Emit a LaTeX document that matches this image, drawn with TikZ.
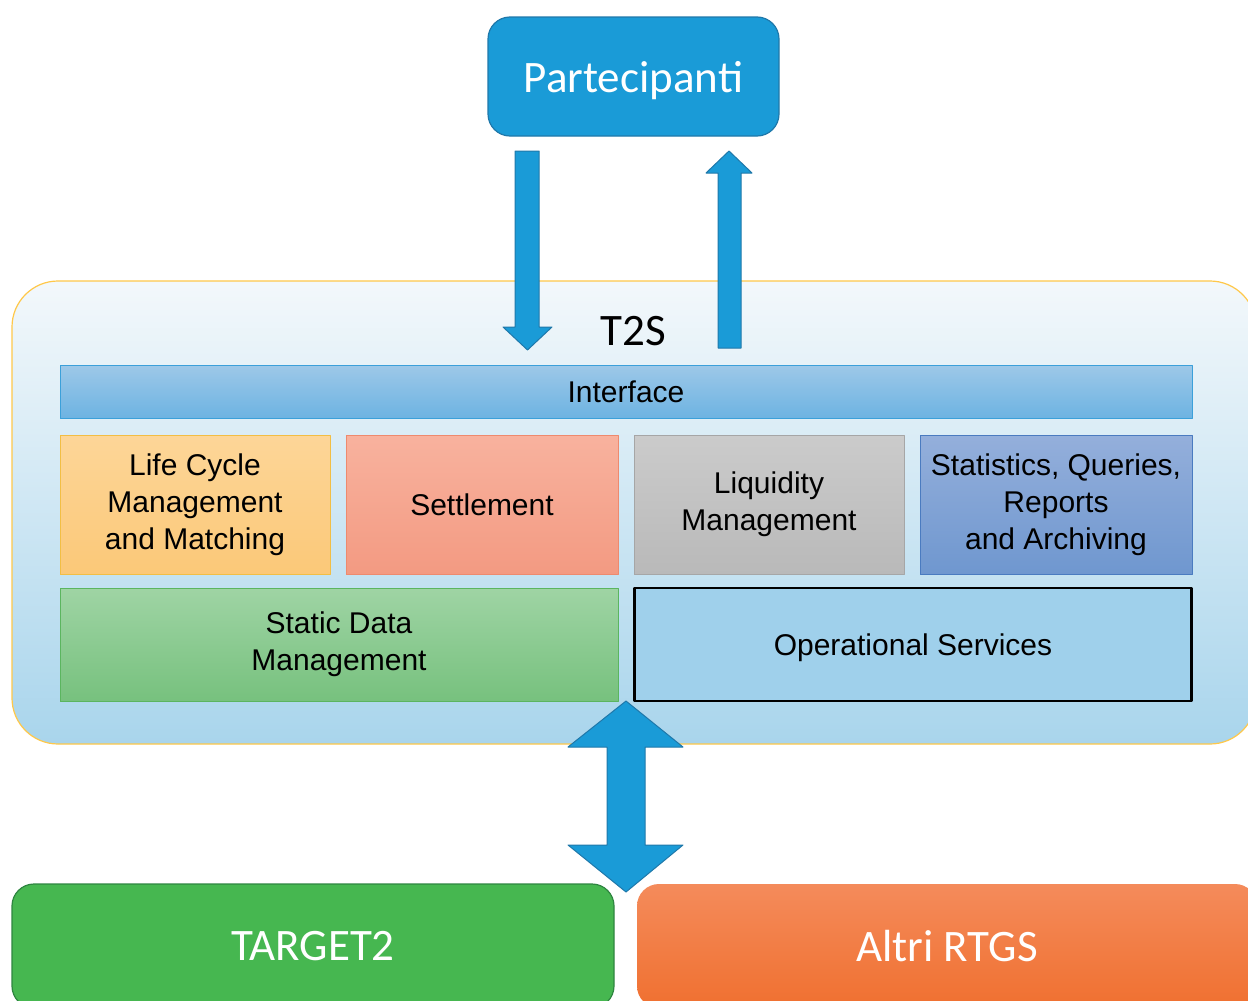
\documentclass[tikz,border=0pt]{standalone}
\usepackage{fontspec}
\setmainfont{Liberation Sans}
\newfontfamily\calfont{Carlito}
\newcommand\lnstrut{\rule[-6.5pt]{0pt}{34pt}}
\definecolor{partblue}{HTML}{1A9BD7}
\definecolor{partedge}{HTML}{1F78AA}
\definecolor{contTop}{HTML}{F3F8FB}
\definecolor{contBot}{HTML}{A9D5EC}
\definecolor{contEdge}{HTML}{FFC84A}
\definecolor{ifTop}{HTML}{9DC8E8}
\definecolor{ifBot}{HTML}{6DB3E2}
\definecolor{ifEdge}{HTML}{3BA0DA}
\definecolor{lcTop}{HTML}{FDD698}
\definecolor{lcBot}{HTML}{FBC878}
\definecolor{lcEdge}{HTML}{F2BE44}
\definecolor{stTop}{HTML}{F8B29E}
\definecolor{stBot}{HTML}{F39A82}
\definecolor{stEdge}{HTML}{EE8A6E}
\definecolor{lqTop}{HTML}{CBCBCB}
\definecolor{lqBot}{HTML}{B9B9B9}
\definecolor{lqEdge}{HTML}{A6A6A6}
\definecolor{sqTop}{HTML}{94AFDB}
\definecolor{sqBot}{HTML}{6F97CF}
\definecolor{sqEdge}{HTML}{4A7BC0}
\definecolor{sdTop}{HTML}{9FD4A4}
\definecolor{sdBot}{HTML}{77C17E}
\definecolor{sdEdge}{HTML}{5BB55F}
\definecolor{opFill}{HTML}{9FD0EB}
\definecolor{tgFill}{HTML}{46B750}
\definecolor{tgEdge}{HTML}{2E8540}
\definecolor{arTop}{HTML}{F48B5B}
\definecolor{arBot}{HTML}{F07030}
\begin{document}
\begin{tikzpicture}[x=1pt,y=-1pt,line join=round,
  blk/.style={rectangle,inner sep=0pt,align=center,font=\fontsize{30}{37}\selectfont,text=black,
    execute at begin node={\lnstrut},execute at end node={\lnstrut}},
  bigtxt/.style={font=\calfont\fontsize{45}{50}\selectfont},
  blockarrow/.style={fill=partblue,draw=partedge,line width=1pt}]
\useasboundingbox (0,0) rectangle (1248,1001);
\clip (0,0) rectangle (1248,1001);
% container
\node[rectangle,rounded corners=46pt,draw=contEdge,line width=1.2pt,top color=contTop,bottom color=contBot,
  minimum width=1244pt,minimum height=463pt] (t2s) at (634,512.5) {};
\node[bigtxt,text=black] (t2slabel) at (633,331) {T2S};
% top box
\node[rectangle,inner sep=0pt,bigtxt,rounded corners=22pt,fill=partblue,draw=partedge,line width=1.2pt,text=white,
  text height=36pt,text depth=5pt,
  minimum width=291pt,minimum height=119pt] (part) at (633.5,76.5) {Partecipanti};
% interface
\node[blk,draw=ifEdge,line width=1pt,top color=ifTop,bottom color=ifBot,
  minimum width=1132pt,minimum height=53pt] (iface) at (626,391.5) {Interface};
% row 1
\node[blk,draw=lcEdge,line width=1pt,top color=lcTop,bottom color=lcBot,
  minimum width=270pt,minimum height=139pt] (lcm) at (195,504.5) {Life Cycle\\Management\\and Matching};
\node[blk,draw=stEdge,line width=1pt,top color=stTop,bottom color=stBot,
  minimum width=272pt,minimum height=139pt] (sett) at (482,504.5) {Settlement};
\node[blk,draw=lqEdge,line width=1pt,top color=lqTop,bottom color=lqBot,
  minimum width=270pt,minimum height=139pt] (liq) at (769,504.5) {Liquidity\\Management};
\node[blk,draw=sqEdge,line width=1pt,top color=sqTop,bottom color=sqBot,
  minimum width=272pt,minimum height=139pt] (stat) at (1056,504.5) {Statistics, Queries,\\Reports\\and Archiving};
% row 2
\node[blk,draw=sdEdge,line width=1pt,top color=sdTop,bottom color=sdBot,
  minimum width=558pt,minimum height=113pt] (sdm) at (339,644.5) {Static Data\\Management};
\node[blk,draw=black,line width=2.2pt,fill=opFill,
  minimum width=557pt,minimum height=113pt] (ops) at (913,644.5) {Operational Services};
% bottom boxes
\node[rectangle,inner sep=0pt,bigtxt,rounded corners=22pt,fill=tgFill,draw=tgEdge,line width=1.2pt,text=white,
  minimum width=602pt,minimum height=124pt] (tg2) at (313,946) {TARGET2};
\node[rectangle,inner sep=0pt,bigtxt,rounded corners=22pt,top color=arTop,bottom color=arBot,text=white,
  minimum width=620pt,minimum height=124pt] (rtgs) at (947,946) {Altri RTGS};
% block arrows
\draw[blockarrow] (515,151) -- (539,151) -- (539,327) -- (552,327) -- (527.5,350) -- (503,327) -- (515,327) -- cycle;
\draw[blockarrow] (729,151) -- (752,173) -- (741,173) -- (741,348) -- (718,348) -- (718,173) -- (706,173) -- cycle;
\draw[blockarrow] (626,701) -- (683,747) -- (645,747) -- (645,845) -- (683,845) -- (626,892) -- (568,845) -- (607,845) -- (607,747) -- (568,747) -- cycle;
\end{tikzpicture}
\end{document}
